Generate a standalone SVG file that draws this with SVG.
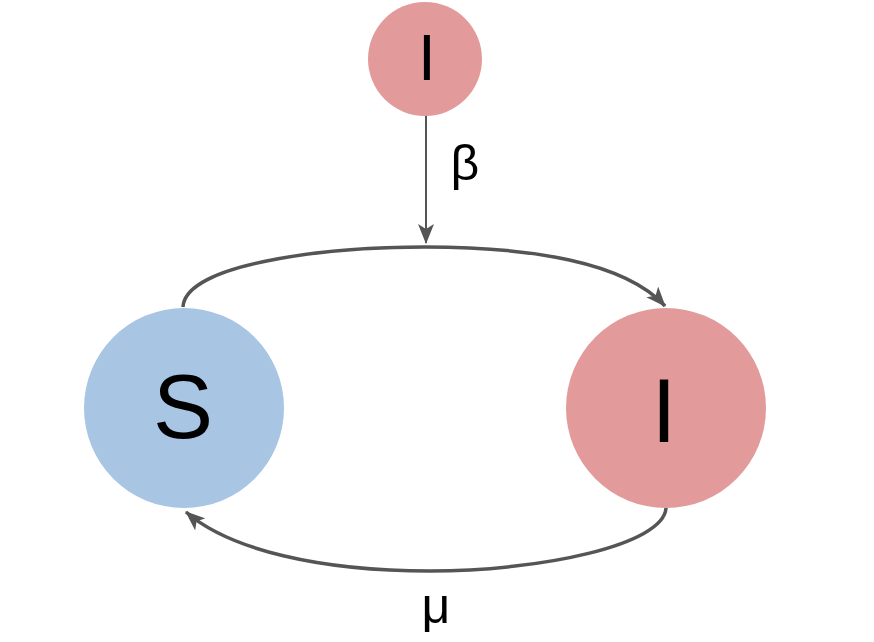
<svg xmlns="http://www.w3.org/2000/svg" width="874" height="642" viewBox="0 0 874 642">
<style>
.lbl{font-family:"Liberation Sans",Arial,sans-serif;fill:#000;text-anchor:middle}
.edge{fill:none;stroke:#555;}
</style>
<defs>
<marker id="ah" markerUnits="userSpaceOnUse" viewBox="0 0 20 16" refX="19" refY="8" markerWidth="20" markerHeight="16" orient="auto">
<path d="M0,0 L20,8 L0,16 L5,8 z" fill="#555"/>
</marker>
</defs>
<rect width="874" height="642" fill="#fff"/>
<g id="connectors">
<path class="edge" d="M426,114 L426,243" stroke-width="2" marker-end="url(#ah)"/>
<path class="edge" d="M183,307 C185,265 320,247 425,247 C530,247 625,262 665,306" stroke-width="3.5" marker-end="url(#ah)"/>
<path class="edge" d="M666,508 C664,545 540,571 430,571 C320,571 230,550 186,512" stroke-width="3.5" marker-end="url(#ah)"/>
</g>
<g id="node-I-top">
<circle cx="425" cy="59" r="57" fill="#e29a9a"/>
<text class="lbl" x="427" y="80" font-size="64">I</text>
</g>
<g id="node-S">
<circle cx="184" cy="408" r="100" fill="#a8c5e4"/>
<text class="lbl" x="183" y="438" font-size="90">S</text>
</g>
<g id="node-I">
<circle cx="666" cy="408" r="100" fill="#e29a9a"/>
<text class="lbl" x="664" y="442" font-size="90">I</text>
</g>
<text class="lbl" x="465" y="180" font-size="50">β</text>
<text class="lbl" x="436" y="623" font-size="50">μ</text>
</svg>
